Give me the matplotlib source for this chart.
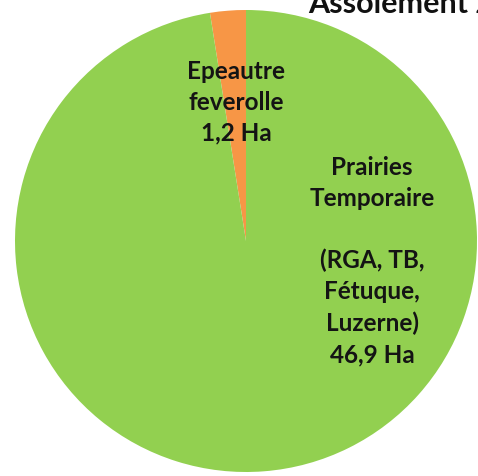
import matplotlib.pyplot as plt

# surfaces (Ha)
labels = ["Epeautre\nfeverolle\n1,2 Ha",
          "Prairies\nTemporaire\n\n(RGA, TB,\nFétuque,\nLuzerne)\n46,9 Ha"]
surfaces = [1.2, 46.9]
colors = ["#F79646", "#92D050"]
title = "Assolement 2"

W, H = 478, 476
cx, cy, r = 246, 241, 231  # pie centre / radius in pixels

fig = plt.figure(figsize=(W / 100, H / 100), dpi=100)
ax = fig.add_axes([(cx - r) / W, (H - cy - r) / H, 2 * r / W, 2 * r / H])

wedges, _ = ax.pie(surfaces, colors=colors, startangle=90, counterclock=True,
                   radius=1, wedgeprops={"linewidth": 0})
ax.set_xlim(-1, 1)
ax.set_ylim(-1, 1)
ax.set_aspect("equal")
ax.axis("off")

font = dict(family=["Lato", "DejaVu Sans"], fontweight="bold", color="#141414",
            ha="center", va="center", fontsize=17.5, linespacing=1.42)

# label positions in pixels, converted to the pie's data coordinates
label_px = [(236, 102), (372, 261)]
for text, (px, py) in zip(labels, label_px):
    ax.text((px - cx) / r, (cy - py) / r, text, **font)

fig.text(308 / W, 1 - 13 / H, title, family=["Lato", "DejaVu Sans"],
         fontweight="bold", fontsize=22, color="#111111",
         ha="left", va="baseline")

fig.savefig("out.png", dpi=100)
